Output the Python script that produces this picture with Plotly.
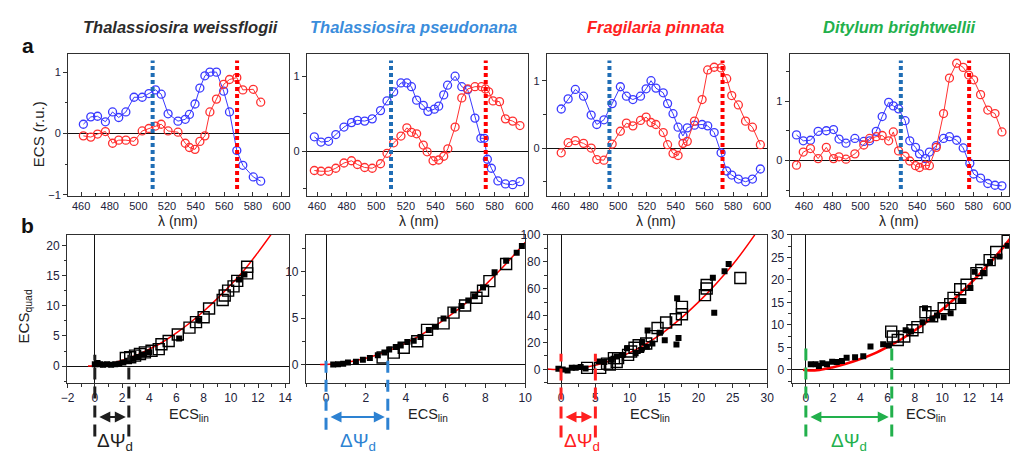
import plotly.graph_objects as go

W, H = 1016, 459
FONT = "Liberation Sans"

BLUE = "#3a3aff"
RED = "#ff3030"
DOT_BLUE = "#1f6db5"
DOT_RED = "#ff0000"

# ---------------- panel a: ECS spectra ----------------
species = ["Thalassiosira weissflogii", "Thalassiosira pseudonana",
           "Fragilaria pinnata", "Ditylum brightwellii"]
species_colors = ["#2b2b2b", "#3a8ddc", "#ff2020", "#22b04c"]

wl_tw = [461.6, 466.8, 471.5, 477, 482, 486.3, 491.3, 497, 502.7, 507.4, 512, 516, 520.8,
         527.7, 532.8, 535.7, 539.6, 543, 546.5, 550, 554.6, 559.6, 563.7, 568.8, 573, 580.3, 585.5]
lin_tw = [0.15, 0.27, 0.28, 0.19, 0.35, 0.26, 0.35, 0.59, 0.59, 0.65, 0.71, 0.64, 0.32,
          0.20, 0.23, 0.31, 0.48, 0.74, 0.94, 1.0, 1.0, 0.69, 0.35, -0.28, -0.52, -0.71, -0.78]
quad_tw = [-0.04, -0.06, -0.01, 0.03, -0.16, -0.11, -0.11, -0.13, 0.04, 0.08, 0.12, 0.15, 0.04,
           0.02, -0.16, -0.23, -0.26, -0.13, -0.04, 0.35, 0.56, 0.80, 0.88, 0.91, 0.71, 0.72, 0.51]

wl_tp_lin = [458.2, 462.7, 467.8, 472.7, 478.2, 483.3, 487.3, 492.2, 497.3, 502.9, 507.3, 511.8,
             516.7, 520.7, 523.8, 527.3, 531.8, 534.9, 539.3, 542.2, 545.6, 548.2, 553.3, 557.8,
             561.8, 566.7, 570.7, 573, 575.1, 577.8, 582.2, 587.3, 592.2, 597.1]
lin_tp = [0.19, 0.12, 0.13, 0.22, 0.32, 0.38, 0.41, 0.40, 0.43, 0.54, 0.67, 0.79, 0.91, 0.91,
          0.86, 0.68, 0.61, 0.53, 0.56, 0.60, 0.75, 0.88, 1.0, 0.86, 0.82, 0.44, 0.17, 0.17,
          -0.11, -0.23, -0.40, -0.44, -0.45, -0.41]
wl_tp_quad = [458.2, 462.7, 467.8, 472.7, 478.2, 483.3, 487.3, 492.2, 497.3, 502.9, 507.3, 511.8,
              516.7, 520.7, 523.8, 527.3, 531.8, 534.4, 538.4, 542.2, 545.6, 548.4, 553.3, 557.8,
              561.8, 566.7, 571.1, 573.8, 576, 578.9, 583.3, 587.3, 592.2, 597.1]
quad_tp = [-0.26, -0.27, -0.27, -0.23, -0.16, -0.13, -0.18, -0.22, -0.23, -0.17, -0.03, 0.11,
           0.20, 0.31, 0.25, 0.23, 0.08, -0.01, -0.13, -0.12, -0.07, 0.03, 0.32, 0.71, 0.83,
           0.86, 0.86, 0.83, 0.79, 0.67, 0.66, 0.43, 0.40, 0.34]

wl_fp = [460.5, 465.3, 470.3, 476, 481.3, 485.2, 490.2, 495.9, 501.6, 505.8, 510.3, 515.6, 519.5,
         522.9, 526.3, 531.4, 534.4, 538.2, 541.7, 545.1, 548.1, 553.1, 558.4, 562.3, 566.8,
         571.6, 575.5, 579, 583.6, 588.6, 593.4, 598.9]
lin_fp = [0.58, 0.73, 0.87, 0.77, 0.49, 0.35, 0.42, 0.66, 0.91, 0.77, 0.72, 0.77, 0.88, 1.0,
          0.89, 0.82, 0.66, 0.51, 0.31, 0.18, 0.30, 0.34, 0.35, 0.33, 0.23, -0.07, -0.34, -0.40,
          -0.46, -0.50, -0.46, -0.31]
quad_fp = [-0.07, 0.08, 0.11, 0.07, 0.0, -0.17, -0.18, 0.06, 0.25, 0.37, 0.33, 0.41, 0.46, 0.38,
           0.35, 0.23, 0.05, -0.08, -0.11, 0.07, 0.10, 0.40, 0.72, 1.16, 1.20, 1.19, 1.03, 0.78,
           0.64, 0.40, 0.31, 0.05]

wl_db_lin = [454.7, 459.5, 464.6, 470, 475.8, 480.9, 484.8, 489.7, 496, 502.3, 506.4, 511.1, 515.3,
             519.9, 523.2, 526.9, 531.5, 534.8, 538.9, 541.7, 545.9, 548.7, 553.6, 558.7, 562.9,
             568, 572.6, 577.3, 580, 584.9, 590, 595.1, 600]
lin_db = [0.43, 0.33, 0.34, 0.49, 0.50, 0.52, 0.36, 0.29, 0.37, 0.32, 0.33, 0.49, 0.74, 0.98,
          0.92, 0.87, 0.67, 0.33, 0.22, 0.11, 0.03, 0.14, 0.25, 0.37, 0.40, 0.34, 0.21, -0.05,
          -0.23, -0.30, -0.39, -0.42, -0.43]
wl_db_quad = [454.7, 459.5, 464.6, 470, 475.8, 480.9, 484.8, 489.7, 496, 502.3, 506.4, 511.1, 515.3,
              519.9, 523.2, 526.9, 531.5, 534.8, 538.9, 541.7, 545.9, 548.7, 553.6, 558.7, 562.9,
              568, 572.6, 576.5, 580, 584.9, 590, 595.1, 600]
quad_db = [-0.08, 0.14, 0.20, 0.03, 0.22, 0.03, 0.06, 0.02, 0.11, 0.26, 0.37, 0.40, 0.42, 0.33,
           0.48, 0.16, 0.07, -0.01, -0.09, -0.12, -0.08, -0.09, 0.22, 0.79, 1.39, 1.64, 1.57,
           1.44, 1.36, 1.11, 0.85, 0.79, 0.48]

# wavelengths chosen for the linear (blue) and quadratic (red) ECS components
lambda_lin = [510, 510, 494, 528.5]
lambda_quad = [569, 574, 572.6, 576.8]

spectra = [
    (wl_tw, lin_tw, wl_tw, quad_tw),
    (wl_tp_lin, lin_tp, wl_tp_quad, quad_tp),
    (wl_fp, lin_fp, wl_fp, quad_fp),
    (wl_db_lin, lin_db, wl_db_quad, quad_db),
]

# ---------------- panel b: ECS_quad vs ECS_lin ----------------
open_x = [
    [2.28, 2.6, 2.96, 3.32, 3.68, 4.17, 4.7, 4.9, 5.43, 6.1, 6.96, 7.44, 8.0, 8.4, 9.4, 9.55,
     9.8, 10.2, 10.47, 11.2, 11.2],
    [2.84, 3.4, 3.9, 4.58, 5.07, 5.9, 6.4, 6.98, 7.55, 7.88, 8.2, 9.04],
    [3.8, 5.7, 6.7, 7.1, 7.7, 8.3, 8.1, 9.76, 10.2, 10.7, 11.3, 12.4, 13.2, 14.05, 15.3, 16.7,
     17.6, 17.6, 20.95, 21.2, 21.2, 26.1],
    [6.26, 6.38, 6.74, 7.22, 7.82, 8.18, 8.77, 9.26, 10.11, 10.59, 10.83, 11.32, 11.79, 12.51,
     12.87, 13.48, 13.96, 14.8],
]
open_y = [
    [1.35, 1.46, 1.73, 2.0, 2.27, 2.54, 2.81, 3.62, 4.16, 5.24, 6.38, 7.3, 8.1, 9.57, 10.97,
     11.73, 12.54, 13.24, 14.16, 15.4, 16.5],
    [0.74, 1.27, 1.8, 2.5, 3.73, 4.44, 5.6, 6.37, 7.2, 7.96, 9.0, 10.85],
    [1.2, 1.2, 4.3, 3.6, 8.4, 8.4, 5.5, 10.8, 13.3, 16.1, 18.0, 19.3, 24.8, 30.8, 34.9, 37.3,
     41.0, 46.5, 55.2, 60.2, 62.7, 68.0],
    [8.5, 7.4, 6.65, 7.4, 8.8, 9.5, 12.8, 11.9, 13.7, 14.6, 16.0, 17.9, 18.9, 21.5, 22.2, 24.4,
     26.2, 28.7],
]
filled_x = [
    [0.0, 0.2, 0.4, 0.6, 0.9, 1.2, 1.5, 1.8, 2.1, 2.4, 2.8, 3.2, 3.6, 4.0, 6.2, 7.6, 10.6, 11.0],
    [0.36, 0.6, 0.86, 1.1, 1.5, 1.85, 2.2, 2.6, 2.93, 3.17, 3.5, 3.75, 4.08, 4.4, 4.74, 5.16,
     5.5, 5.9, 6.4, 6.8, 7.14, 7.47, 7.88, 8.46, 9.04, 9.57, 9.83],
    [-0.38, 0.24, 0.95, 1.57, 2.14, 2.86, 3.57, 5.48, 6.3, 7.4, 8.1, 8.95, 9.6, 10.86, 11.67,
     11.8, 12.5, 12.6, 13.3, 14.4, 15.1, 16.8, 16.9, 17.1, 22.3, 22.1, 23.8, 24.4],
    [0.36, 0.72, 0.96, 1.21, 1.55, 1.93, 2.27, 2.65, 2.99, 3.61, 4.21, 4.74, 5.67, 6.09, 7.32,
     7.71, 8.56, 8.74, 9.28, 9.62, 10.11, 10.62, 11.35, 11.55, 12.07, 12.38, 13.0, 13.51, 14.2,
     14.8],
]
filled_y = [
    [0.3, 0.5, 0.3, 0.2, 0.3, 0.2, 0.3, 0.4, 0.6, 0.9, 1.2, 1.5, 1.9, 2.3, 4.6, 7.6, 14.4, 15.2],
    [0.0, 0.03, 0.07, 0.2, 0.3, 0.5, 0.7, 1.0, 1.3, 1.6, 1.87, 2.04, 2.43, 2.57, 2.96, 3.73,
     4.08, 4.96, 5.85, 6.3, 6.9, 7.36, 8.3, 9.96, 11.2, 12.08, 12.8],
    [0.5, 0.0, -0.7, 1.2, 1.2, 1.9, 0.7, 6.0, 5.5, 7.2, 9.6, 10.8, 15.7, 12.0, 14.5, 20.0, 16.9,
     28.9, 19.3, 27.2, 21.7, 18.5, 53.0, 23.4, 42.2, 68.2, 73.0, 78.3],
    [1.23, 1.23, 0.87, 1.45, 1.23, 1.8, 1.74, 1.95, 2.67, 2.82, 3.04, 5.2, 5.7, 5.4, 8.8, 8.5,
     10.6, 13.7, 11.4, 12.1, 11.7, 12.6, 15.3, 15.3, 18.2, 21.8, 21.5, 24.0, 25.2, 27.6],
]
fit_x = [
    [-0.5, 0, 1, 2, 3, 4, 5, 6, 7, 8, 9, 10, 11, 12, 13],
    [-0.3, 0, 1, 2, 3, 4, 5, 6, 7, 8, 9, 10],
    [-2, 0, 5, 10, 15, 20, 25, 28.2],
    [-0.2, 0, 1, 2, 3, 4, 5, 6, 7, 8, 9, 10, 11, 12, 13, 14, 15],
]
fit_y = [
    [0.0, 0.05, 0.35, 0.95, 1.75, 2.8, 4.0, 5.5, 7.2, 9.1, 11.2, 13.5, 16.0, 18.9, 22.0],
    [0.0, 0.0, 0.2, 0.66, 1.36, 2.3, 3.5, 4.95, 6.6, 8.6, 10.8, 13.2],
    [0.4, 0.0, 3.1, 12.5, 28.0, 50.0, 78.0, 100.0],
    [0.0, -0.1, 0.0, 0.6, 1.4, 2.4, 3.6, 5.1, 6.8, 8.8, 11.0, 13.4, 16.1, 19.0, 22.1, 25.5, 29.2],
]
fit_width = [1.5, 1.5, 1.5, 2.6]

# membrane potential span (ECS_lin units) marked below each panel
dpsi = [2.5, 3.1, 5.0, 6.3]
dpsi_colors = ["#1e1e1e", "#2d82d2", "#ff2020", "#22b04c"]

# ---------------- layout geometry (pixels) ----------------
top_x_px = [(63, 287), (305, 529), (548, 771), (794, 1016)]
top_y_px = (48, 194)
bot_x_px = [(62, 287), (304, 526), (549, 771), (796, 1016)]
bot_y_px = (234, 386)

top_xrange = [[451, 605.5], [453.3, 602.7], [450.6, 603.6], [450, 605]]
top_yrange = [[-1.02, 1.3], [-0.6, 1.3], [-0.71, 1.4], [-0.6, 1.8]]
bot_xrange = [[-2.03, 14.3], [-1, 10], [-1.9, 30], [-1.03, 14.9]]
bot_yrange = [[-2.8, 21.8], [-2, 14], [-10, 100], [-2.9, 30]]
bot_xdtick = [2, 2, 5, 2]
bot_ydtick = [5, 5, 20, 5]


def fx(p):
    return p / W


def fy(p):
    return 1 - p / H


fig = go.Figure()
TICKCOL = "#22223a"
FRAME = "#303030"


def axis_style(dom, rng, dtick, minor_dtick, tick0, size, zero, ticks="outside"):
    return dict(domain=list(dom), range=rng, dtick=dtick, tick0=tick0, showgrid=False,
                showline=True, linecolor=FRAME, linewidth=1.3, mirror=True,
                ticks=ticks, ticklen=4, tickwidth=1, tickcolor=FRAME,
                minor=dict(dtick=minor_dtick, ticks=ticks, ticklen=2.5, tickcolor=FRAME,
                           showgrid=False),
                tickfont=dict(family=FONT, size=size, color=TICKCOL),
                zeroline=zero, zerolinecolor="#111111", zerolinewidth=1.2)


def label(text, xp, yp, size, color="#222", angle=0):
    return dict(text=text, xref="paper", yref="paper", x=fx(xp), y=fy(yp),
                xanchor="center", yanchor="middle", showarrow=False, textangle=angle,
                font=dict(family=FONT, size=size, color=color))


annotations = []
shapes = []

for i in range(4):
    ax = i + 1
    xa = "x" if ax == 1 else f"x{ax}"
    ya = "y" if ax == 1 else f"y{ax}"
    wl_l, v_l, wl_q, v_q = spectra[i]
    fig.add_trace(go.Scatter(x=wl_l, y=v_l, mode="lines+markers", xaxis=xa, yaxis=ya,
                             line=dict(color=BLUE, width=1),
                             marker=dict(symbol="circle-open", size=8, color=BLUE,
                                         line=dict(width=1.3)),
                             showlegend=False))
    fig.add_trace(go.Scatter(x=wl_q, y=v_q, mode="lines+markers", xaxis=xa, yaxis=ya,
                             line=dict(color=RED, width=1),
                             marker=dict(symbol="circle-open", size=8, color=RED,
                                         line=dict(width=1.3)),
                             showlegend=False))
    key = "" if ax == 1 else str(ax)
    fig.layout[f"xaxis{key}"] = axis_style((fx(top_x_px[i][0]), fx(top_x_px[i][1])),
                                           top_xrange[i], 20, 10, 460, 11, False, "inside")
    fig.layout[f"xaxis{key}"].anchor = ya
    fig.layout[f"yaxis{key}"] = axis_style((fy(top_y_px[1]), fy(top_y_px[0])),
                                           top_yrange[i], 1, 0.5, 0, 11, True)
    fig.layout[f"yaxis{key}"].anchor = xa

    for lam, col in ((lambda_lin[i], DOT_BLUE), (lambda_quad[i], DOT_RED)):
        shapes.append(dict(type="line", xref=xa, yref="paper", x0=lam, x1=lam,
                           y0=fy(187), y1=fy(55),
                           line=dict(color=col, width=4, dash="4px,3px")))

    annotations.append(label(f"<b><i>{species[i]}</i></b>", [177, 413, 658, 905][i], 21,
                             16.5, species_colors[i]))
    annotations.append(label("λ (nm)", [174, 418, 658, 905][i], 220, 14))

for i in range(4):
    ax = i + 5
    xa, ya = f"x{ax}", f"y{ax}"
    fig.add_trace(go.Scatter(x=fit_x[i], y=fit_y[i], mode="lines", xaxis=xa, yaxis=ya,
                             line=dict(color="#ff0000", width=fit_width[i], shape="spline"),
                             showlegend=False))
    fig.add_trace(go.Scatter(x=filled_x[i], y=filled_y[i], mode="markers", xaxis=xa, yaxis=ya,
                             marker=dict(symbol="square", size=6, color="#000"),
                             showlegend=False))
    fig.add_trace(go.Scatter(x=open_x[i], y=open_y[i], mode="markers", xaxis=xa, yaxis=ya,
                             marker=dict(symbol="square-open", size=11, color="#000",
                                         line=dict(width=1.4)),
                             showlegend=False))
    fig.layout[f"xaxis{ax}"] = axis_style((fx(bot_x_px[i][0]), fx(bot_x_px[i][1])),
                                          bot_xrange[i], bot_xdtick[i], bot_xdtick[i] / 2, 0,
                                          12, True)
    fig.layout[f"xaxis{ax}"].anchor = ya
    fig.layout[f"yaxis{ax}"] = axis_style((fy(bot_y_px[1]), fy(bot_y_px[0])),
                                          bot_yrange[i], bot_ydtick[i], bot_ydtick[i] / 2, 0,
                                          12, True)
    fig.layout[f"yaxis{ax}"].anchor = xa

    col = dpsi_colors[i]
    top_px = [357, 357, 356, 345][i]
    bot_px = [441, 434, 442, 441][i]
    for xv in (0, dpsi[i]):
        shapes.append(dict(type="line", xref=xa, yref="paper", x0=xv, x1=xv,
                           y0=fy(bot_px), y1=fy(top_px),
                           line=dict(color=col, width=3, dash="12px,7px")))
    annotations.append(dict(text="", xref=xa, yref="paper", x=dpsi[i], y=fy(421),
                            axref=xa, ayref="pixel", ax=0, ay=0, showarrow=True,
                            arrowhead=2, arrowsize=1, arrowwidth=2.2, arrowcolor=col,
                            arrowside="end+start", standoff=3, startstandoff=3))
    annotations.append(label("ΔΨ<sub>d</sub>", [110, 357, 583, 854][i], 447, 19, col))
    annotations.append(label("ECS<sub>lin</sub>", [185, 427, 652, 932][i], 419, 14.5))

annotations += [
    label("ECS (r.u.)", 33, 131, 15, angle=-90),
    label("ECS<sub>quad</sub>", 19, 318, 15, angle=-90),
    label("<b>a</b>", 22, 40, 21, "#111"),
    label("<b>b</b>", 22, 224, 21, "#111"),
]

fig.update_layout(width=W, height=H, margin=dict(l=0, r=0, t=0, b=0),
                  paper_bgcolor="white", plot_bgcolor="white",
                  annotations=annotations, shapes=shapes, showlegend=False)

fig.write_html("out.html")
